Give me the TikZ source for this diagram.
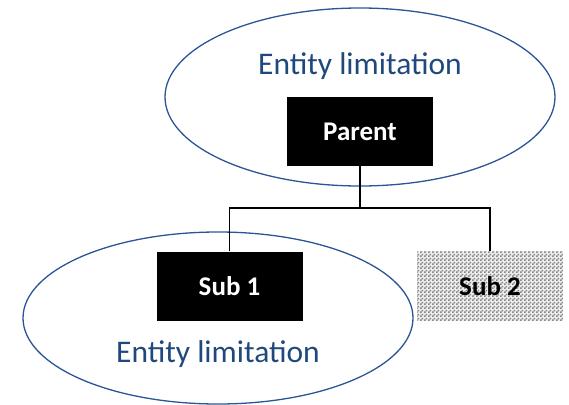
\documentclass[tikz,border=0pt]{standalone}
\usepackage{fontspec}
\setmainfont{Carlito}
\usetikzlibrary{shapes.geometric,patterns}
\definecolor{entblue}{HTML}{1F497D}
\definecolor{ellblue}{HTML}{2A5597}
\pgfdeclarepatternformonly{finechecker}{\pgfpointorigin}{\pgfqpoint{4pt}{4pt}}{\pgfqpoint{4pt}{4pt}}{%
  \pgfpathrectangle{\pgfpointorigin}{\pgfqpoint{2pt}{2pt}}%
  \pgfpathrectangle{\pgfqpoint{2pt}{2pt}}{\pgfqpoint{2pt}{2pt}}%
  \pgfusepath{fill}}
\tikzset{
  entity/.style={ellipse, draw=ellblue, line width=1.3pt, inner sep=0pt},
  enttext/.style={text=entblue, font=\fontsize{31.5}{36}\selectfont, inner sep=0pt},
  blackbox/.style={fill=black, text=white, font=\fontsize{27}{30}\selectfont\bfseries, minimum width=146pt, minimum height=69pt, inner sep=0pt},
  checkbox/.style={preaction={fill=gray!15}, pattern=finechecker, pattern color=gray!95, font=\fontsize{27}{30}\selectfont\bfseries, minimum width=146pt, minimum height=69pt, inner sep=0pt},
  conn/.style={line width=1.6pt, black}
}
\begin{document}
\begin{tikzpicture}[x=1pt,y=-1pt]
\useasboundingbox (0,0) rectangle (569,404);
\node[entity, minimum width=390pt, minimum height=178pt] (e1) at (360,97) {};
\node[enttext] (t1) at (360,66) {Entity limitation};
\node[entity, minimum width=390pt, minimum height=172pt] (e2) at (218,318) {};
\node[enttext] (t2) at (218,354) {Entity limitation};
\node[blackbox] (parent) at (360,131.5) {Parent};
\node[blackbox] (sub1) at (229.5,286) {Sub 1};
\node[checkbox] (sub2) at (490,286) {Sub 2};
\coordinate (jp) at (360,208);
\draw[conn] (parent.south) -- (jp);
\draw[conn] (sub1.north) |- (jp) -| (sub2.north);
\end{tikzpicture}
\end{document}
